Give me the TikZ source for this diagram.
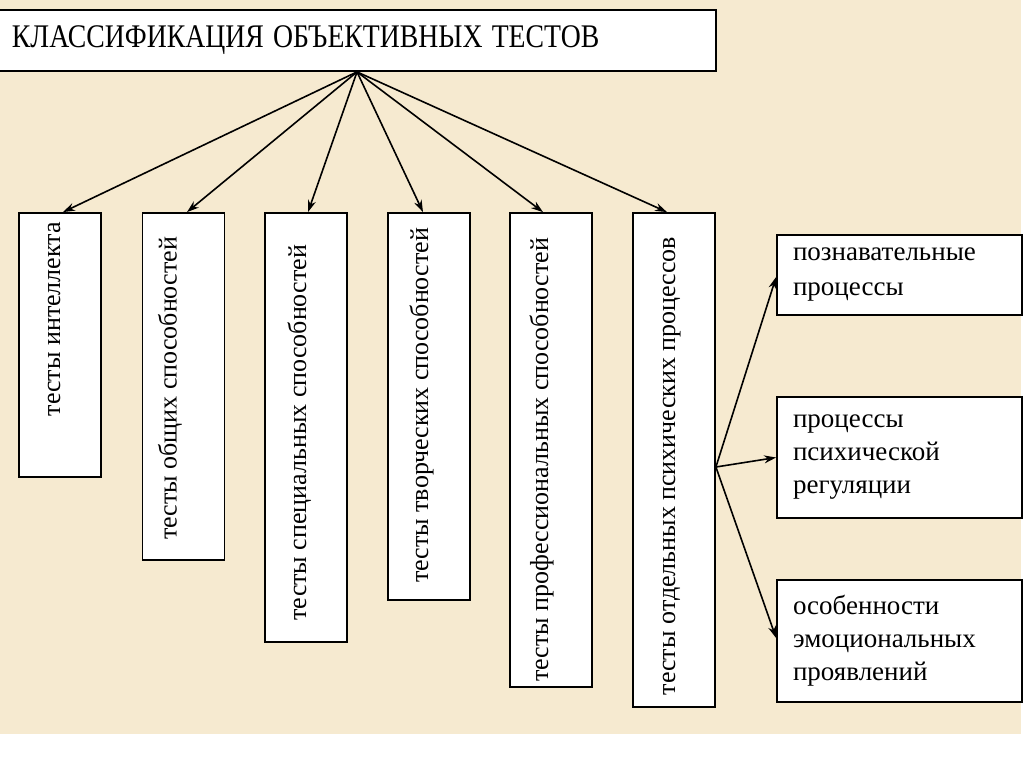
\documentclass[tikz,border=0pt]{standalone}
\usepackage{fontspec}
\setmainfont{Liberation Serif}
\newfontfamily\ser{Liberation Serif}
\usetikzlibrary{arrows.meta,calc}
\definecolor{parch}{RGB}{246,234,208}
\begin{document}
\begin{tikzpicture}[x=1pt,y=-1pt,
  box/.style={draw=black, line width=1.8pt, fill=white, inner sep=0pt},
  vbox/.style={box, rotate=90, minimum height=82pt, minimum width=#1, font=\ser\fontsize{26}{30}\selectfont},
  rbox/.style={box, minimum width=245pt, text width=213pt, align=left, font=\ser\fontsize{27}{33}\selectfont},
  arr/.style={line width=1.6pt, -{Stealth[length=12pt,width=8pt]}}
]
\useasboundingbox (0,0) rectangle (1024,768);
\fill[parch] (0,0) rectangle (1021,734);

\node[box, minimum width=718pt, minimum height=61pt, text width=690pt, align=left,
  font=\ser\fontsize{33}{36}\selectfont] (title) at (357,40.5)
  {\scalebox{0.84}[1]{КЛАССИФИКАЦИЯ ОБЪЕКТИВНЫХ ТЕСТОВ}};

\node[vbox=264pt] (b1) at (60,345)
  {\makebox[264pt][r]{\raisebox{0pt}[0pt][0pt]{тесты интеллекта}\kern9pt}};
\node[vbox=347pt] (b2) at (183.5,386.5)
  {\makebox[347pt][r]{\raisebox{7pt}[0pt][0pt]{тесты общих способностей}\kern24pt}};
\node[vbox=429pt] (b3) at (306,427.5)
  {\makebox[429pt][r]{\raisebox{0pt}[0pt][0pt]{тесты специальных способностей}\kern32pt}};
\node[vbox=387pt] (b4) at (429,406.5)
  {\makebox[387pt][r]{\raisebox{1pt}[0pt][0pt]{тесты творческих способностей}\kern15pt}};
\node[vbox=474pt] (b5) at (551,450)
  {\makebox[474pt][r]{\raisebox{3pt}[0pt][0pt]{тесты профессиональных способностей}\kern25pt}};
\node[vbox=494pt] (b6) at (674,460)
  {\makebox[494pt][r]{\raisebox{-1pt}[0pt][0pt]{тесты отдельных психических процессов}\kern24pt}};

\foreach \b/\dx in {b1/3, b2/3.5, b3/2, b4/-6, b5/-8, b6/-7}
  \draw[arr] (title.south) -- ([xshift=\dx pt]\b.east);

\node[rbox, minimum height=80pt, font=\ser\fontsize{27}{35}\selectfont] (rA) at (899.5,275) {познавательные\\процессы};
\node[rbox, minimum height=121pt] (rB) at (899.5,457.5) {процессы\\психической\\регуляции};
\node[rbox, minimum height=122pt] (rC) at (899.5,641) {особенности\\эмоциональных\\проявлений};

\coordinate (f) at ($(b6.south)+(0,7)$);
\draw[arr] (f) -- ($(rA.west)+(0,2)$);
\draw[arr] (f) -- (rB.west);
\draw[arr] (f) -- ($(rC.west)+(0,-3)$);
\end{tikzpicture}
\end{document}
